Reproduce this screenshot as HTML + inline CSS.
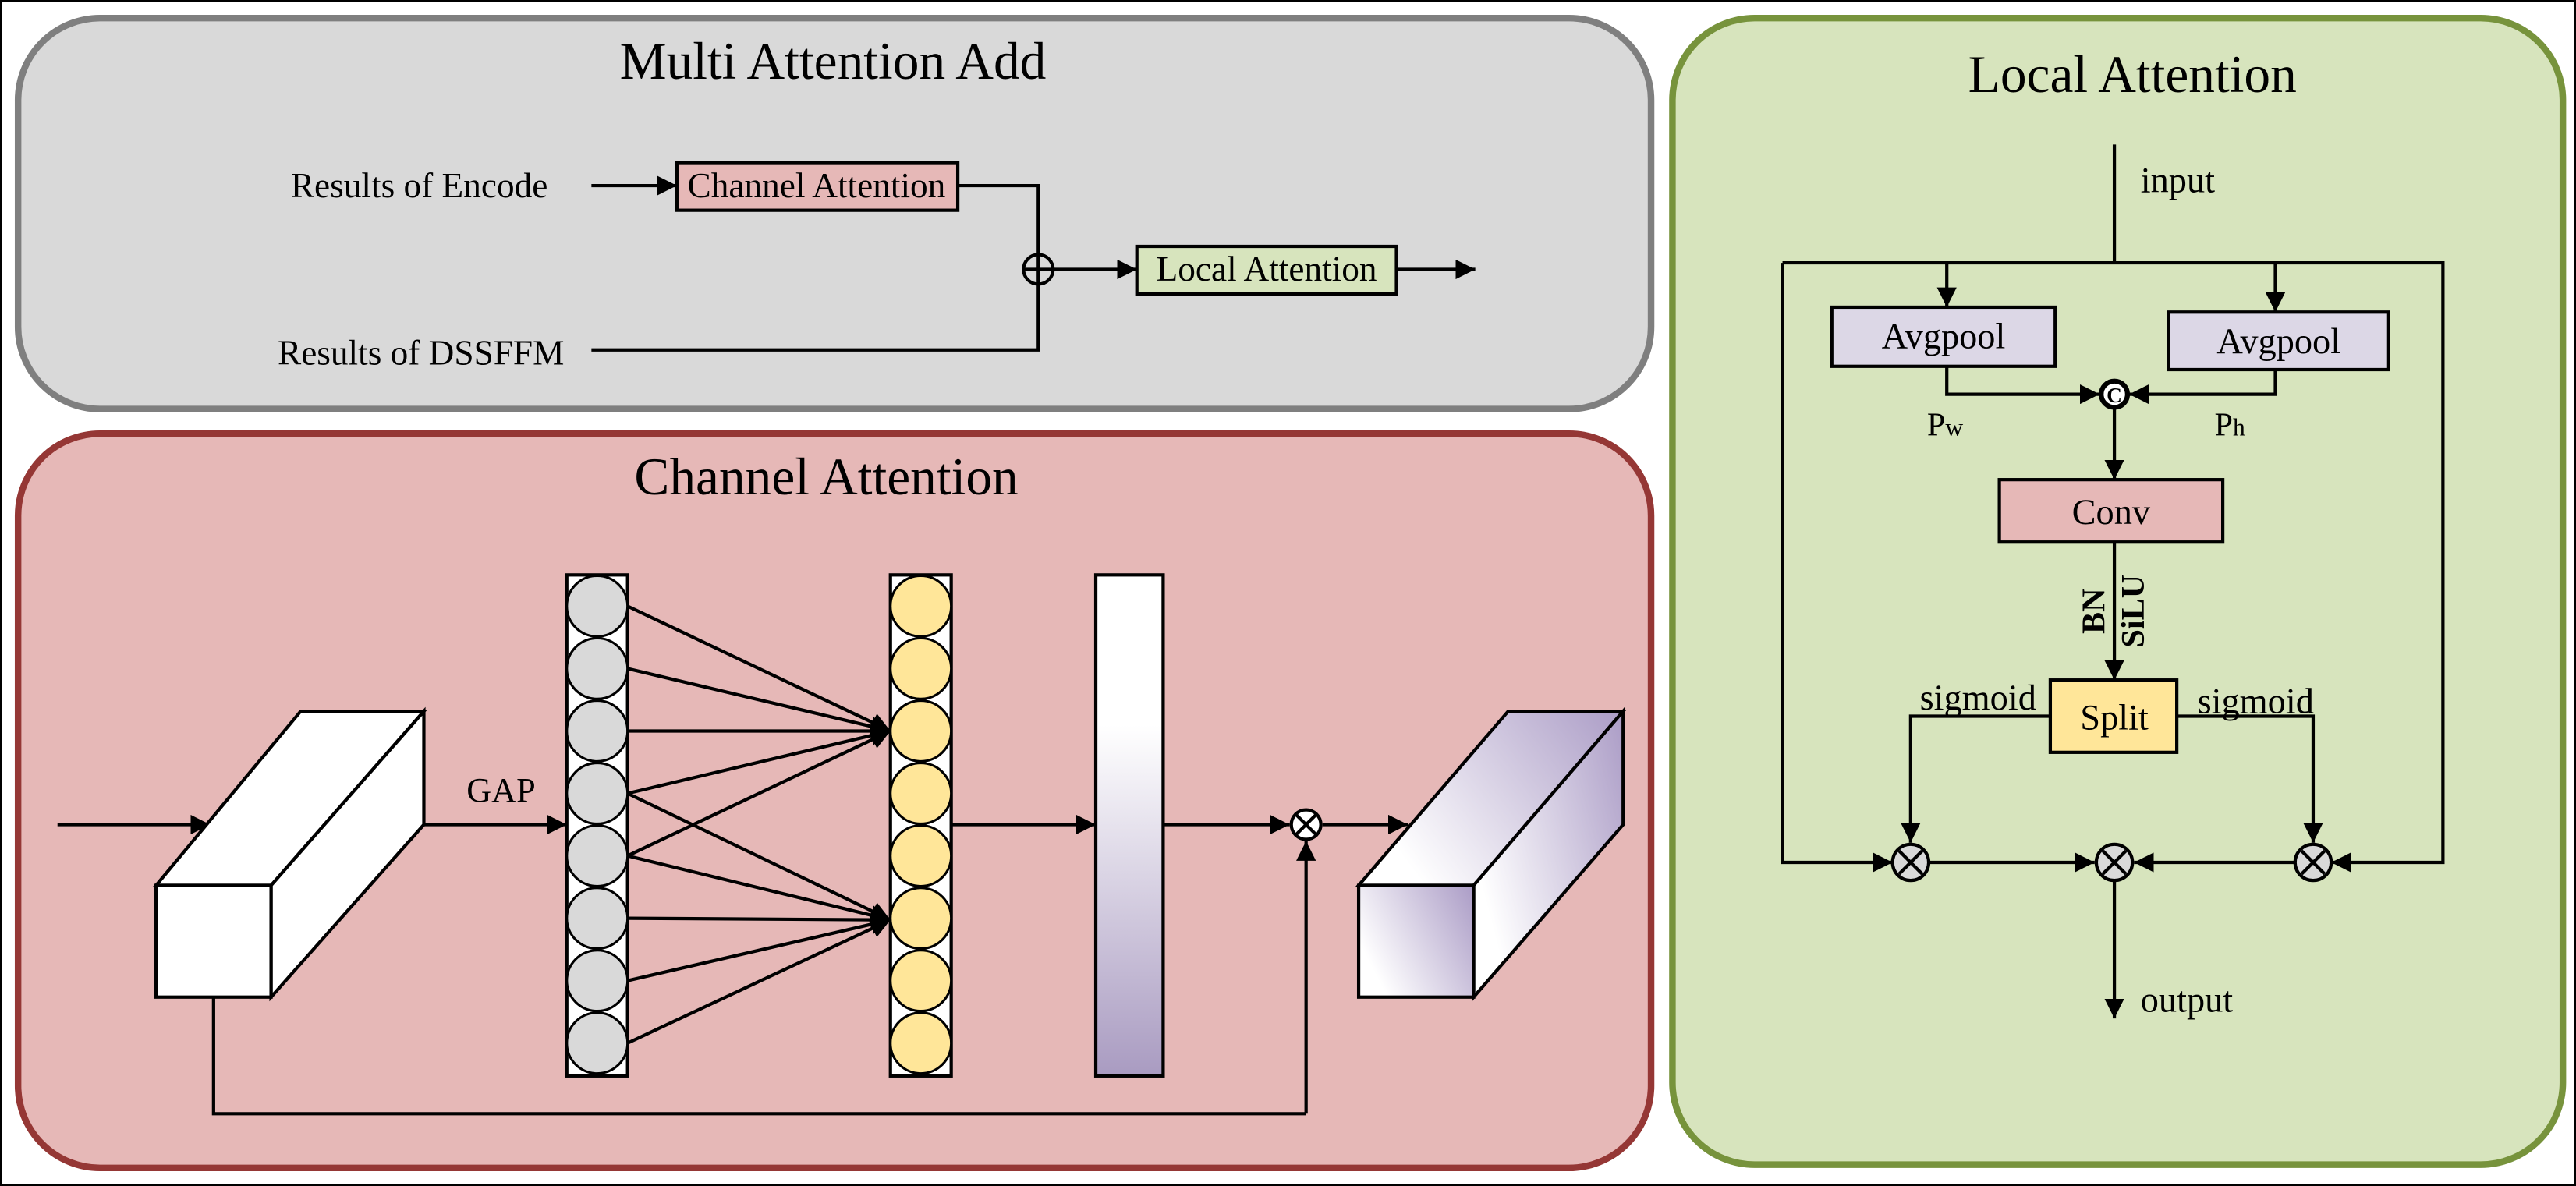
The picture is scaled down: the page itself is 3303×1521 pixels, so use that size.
<!DOCTYPE html>
<html><head><meta charset="utf-8"><style>html,body{margin:0;padding:0;background:#fff}svg{display:block}</style></head><body>
<svg width="3303" height="1521" viewBox="0 0 1568 722" preserveAspectRatio="none" xmlns="http://www.w3.org/2000/svg" font-family="Liberation Serif, serif">
<defs>
<marker id="b" viewBox="0 0 10 10" refX="10" refY="5" markerWidth="12" markerHeight="12" orient="auto" markerUnits="userSpaceOnUse"><path d="M0,0L10,5L0,10z" fill="#000"/></marker>
<linearGradient id="bar" x1="0" y1="0" x2="0" y2="1"><stop offset="0.3" stop-color="#fff"/><stop offset="1" stop-color="#a99bc1"/></linearGradient>
<linearGradient id="cub" x1="0" y1="0.5" x2="1" y2="0"><stop offset="0" stop-color="#fff"/><stop offset="1" stop-color="#ab9cc6"/></linearGradient>
</defs>
<rect x="0.5" y="0.5" width="1567" height="721" fill="#fff" stroke="#000" stroke-width="1"/>
<rect x="11" y="11" width="994" height="238" rx="50" fill="#d9d9d9" stroke="#7f7f7f" stroke-width="4"/>
<rect x="11" y="264" width="994" height="447" rx="50" fill="#e6b8b7" stroke="#953735" stroke-width="4"/>
<rect x="1018" y="11" width="542" height="698" rx="50" fill="#d7e4bd" stroke="#77933c" stroke-width="4"/>
<g font-size="32" text-anchor="middle">
<text x="507" y="48">Multi Attention Add</text>
<text x="503" y="301">Channel  Attention</text>
<text x="1298" y="56">Local Attention</text>
</g>
<g stroke="#000" stroke-width="2" fill="none">
<path d="M360,113H412" marker-end="url(#b)"/>
<path d="M583,113H632V155"/>
<path d="M360,213H632V173"/>
<path d="M641,164H692" marker-end="url(#b)"/>
<path d="M850,164H898" marker-end="url(#b)"/>
</g>
<rect x="412" y="99" width="171" height="29" fill="#e6b8b7" stroke="#000" stroke-width="2"/>
<rect x="692" y="150" width="158" height="29" fill="#d7e4bd" stroke="#000" stroke-width="2"/>
<circle cx="632" cy="164" r="9" fill="none" stroke="#000" stroke-width="2"/>
<path d="M623,164H641M632,155V173" stroke="#000" stroke-width="2"/>
<g font-size="21.5">
<text x="177" y="120">Results of Encode</text>
<text x="169" y="222">Results of DSSFFM</text>
<text x="497" y="120" text-anchor="middle">Channel Attention</text>
<text x="771" y="171" text-anchor="middle">Local Attention</text>
</g>
<g stroke="#000" stroke-width="2">
<path d="M35,502H128" marker-end="url(#b)" fill="none"/>
<path d="M95,539L183,433H258L165,539Z" fill="#fff"/>
<path d="M165,539L258,433V502L165,607Z" fill="#fff"/>
<rect x="95" y="539" width="70" height="68" fill="#fff"/>
<path d="M258,502H345" marker-end="url(#b)" fill="none"/>
<rect x="345" y="350" width="37" height="305" fill="#fff"/>
<rect x="542" y="350" width="37" height="305" fill="#fff"/>
<g fill="#d9d9d9" stroke-width="1.5">
<circle cx="363.5" cy="369" r="18.5"/><circle cx="363.5" cy="407" r="18.5"/><circle cx="363.5" cy="445" r="18.5"/><circle cx="363.5" cy="483" r="18.5"/><circle cx="363.5" cy="521" r="18.5"/><circle cx="363.5" cy="559" r="18.5"/><circle cx="363.5" cy="597" r="18.5"/><circle cx="363.5" cy="635" r="18.5"/>
</g>
<g fill="#ffe699" stroke-width="1.5">
<circle cx="560.5" cy="369" r="18.5"/><circle cx="560.5" cy="407" r="18.5"/><circle cx="560.5" cy="445" r="18.5"/><circle cx="560.5" cy="483" r="18.5"/><circle cx="560.5" cy="521" r="18.5"/><circle cx="560.5" cy="559" r="18.5"/><circle cx="560.5" cy="597" r="18.5"/><circle cx="560.5" cy="635" r="18.5"/>
</g>
<g fill="none" marker-end="url(#b)">
<path d="M382,369L542,445"/><path d="M382,407L542,445"/><path d="M382,445L542,445"/><path d="M382,483L542,445"/><path d="M382,521L542,445"/>
<path d="M382,483L542,560"/><path d="M382,521L542,560"/><path d="M382,559L542,560"/><path d="M382,597L542,560"/><path d="M382,635L542,560"/>
<path d="M579,502H667"/><path d="M708,502H785"/><path d="M805,502H857"/><path d="M795,678V512"/>
</g>
<path d="M130,607V678H795" fill="none"/>
<rect x="667" y="350" width="41" height="305" fill="url(#bar)"/>
<circle cx="795" cy="502" r="9" fill="#fff"/>
<path d="M789,496L801,508M801,496L789,508" fill="none"/>
<path d="M827,539L918,433H988L897,539Z" fill="url(#cub)"/>
<path d="M897,539L988,433V502L897,607Z" fill="url(#cub)"/>
<rect x="827" y="539" width="70" height="68" fill="url(#cub)"/>
</g>
<text x="305" y="488" font-size="21" text-anchor="middle">GAP</text>
<g stroke="#000" stroke-width="2" fill="none">
<path d="M1287,88V160"/>
<path d="M1085,160H1487V525H1419" marker-end="url(#b)"/>
<path d="M1085,160V525H1152" marker-end="url(#b)"/>
<path d="M1185,160V187" marker-end="url(#b)"/>
<path d="M1385,160V190" marker-end="url(#b)"/>
<path d="M1185,223V240H1278" marker-end="url(#b)"/>
<path d="M1385,225V240H1296" marker-end="url(#b)"/>
<path d="M1287,249V292" marker-end="url(#b)"/>
<path d="M1287,330V414" marker-end="url(#b)"/>
<path d="M1248,436H1163V513" marker-end="url(#b)"/>
<path d="M1325,436H1408V513" marker-end="url(#b)"/>
<path d="M1174,525H1275" marker-end="url(#b)"/>
<path d="M1397,525H1299" marker-end="url(#b)"/>
<path d="M1287,536V620" marker-end="url(#b)"/>
</g>
<g stroke="#000" stroke-width="2">
<rect x="1115" y="187" width="136" height="36" fill="#dcd7e6"/>
<rect x="1320" y="190" width="134" height="35" fill="#dcd7e6"/>
<rect x="1217" y="292" width="136" height="38" fill="#e6b8b7"/>
<rect x="1248" y="414" width="77" height="44" fill="#ffe699"/>
<circle cx="1287" cy="240" r="8" fill="#fff" stroke-width="3"/>
<g fill="#d9d9d9"><circle cx="1163" cy="525" r="11"/><circle cx="1287" cy="525" r="11"/><circle cx="1408" cy="525" r="11"/></g>
<path d="M1156,518L1170,532M1170,518L1156,532M1280,518L1294,532M1294,518L1280,532M1401,518L1415,532M1415,518L1401,532" fill="none"/>
</g>
<text x="1287" y="245" font-size="13" font-weight="bold" text-anchor="middle">C</text>
<g font-size="22">
<text x="1303" y="117">input</text>
<text x="1303" y="616">output</text>
<text x="1183" y="212" text-anchor="middle">Avgpool</text>
<text x="1387" y="215" text-anchor="middle">Avgpool</text>
<text x="1285" y="319" text-anchor="middle">Conv</text>
<text x="1287" y="444" text-anchor="middle">Split</text>
<text x="1204" y="432" text-anchor="middle">sigmoid</text>
<text x="1373" y="434" text-anchor="middle">sigmoid</text>
<text x="1173" y="265" font-size="20">P<tspan font-size="15">w</tspan></text>
<text x="1348" y="265" font-size="20">P<tspan font-size="15">h</tspan></text>
<text transform="translate(1281,372) rotate(-90)" text-anchor="middle" font-weight="bold" font-size="20">BN</text>
<text transform="translate(1305,372) rotate(-90)" text-anchor="middle" font-weight="bold" font-size="20">SiLU</text>
</g>
</svg>
</body></html>
